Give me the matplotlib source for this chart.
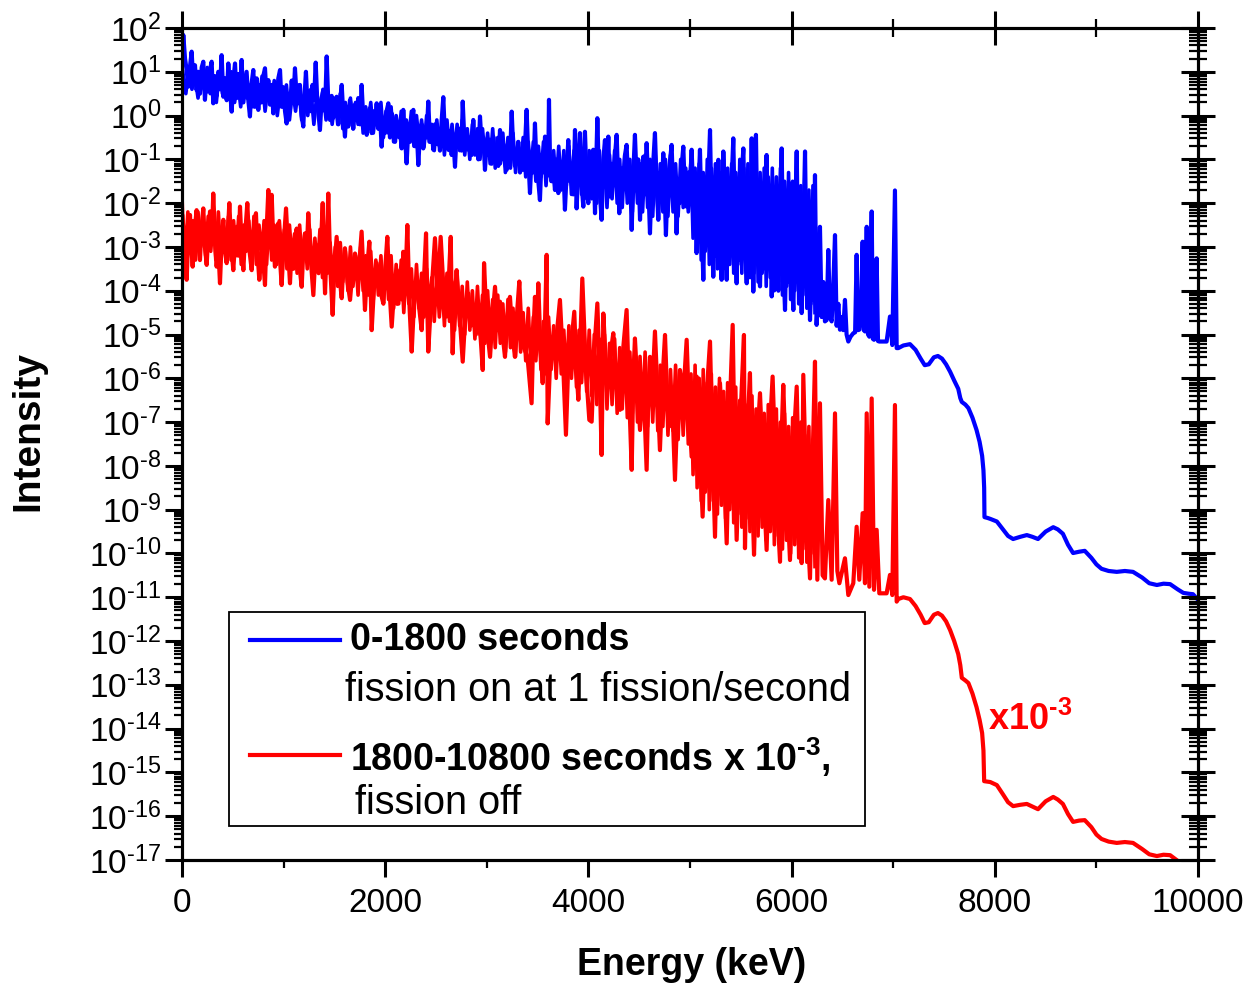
import numpy as np
import matplotlib
matplotlib.use("Agg")
import matplotlib.pyplot as plt
from matplotlib.ticker import LogLocator, MultipleLocator, NullFormatter, FuncFormatter
from matplotlib.patches import Rectangle
from matplotlib.lines import Line2D

plt.rcParams['font.family'] = ['Liberation Sans', 'DejaVu Sans']
plt.rcParams['mathtext.fontset'] = 'custom'
plt.rcParams['mathtext.rm'] = 'Liberation Sans'
plt.rcParams['mathtext.bf'] = 'Liberation Sans:bold'
plt.rcParams['mathtext.default'] = 'regular'
plt.rcParams['axes.unicode_minus'] = False

HY = '\u2010'  # short hyphen for exponents, as in the original

# (energy keV, log10 intensity)
# 0-1800 s, fission on
blue_low = [
    (0, 1.2), (13, 1.84), (30, 1.3), (46, 1.04), (62, 0.66), (78, 1.1), (95, 1.46), (112, 0.75),
    (128, 1.15), (144, 0.58), (160, 1.0), (177, 0.5), (194, 1.1), (210, 1.23), (226, 0.36),
    (243, 0.95), (259, 0.55), (276, 1.05), (292, 1.23), (308, 0.28), (325, 0.9), (341, 0.45),
    (357, 1.0), (374, 0.6), (390, 1.38), (407, 0.43), (423, 0.85), (440, 0.35), (456, 1.19),
    (472, 0.6), (489, 0.09), (505, 0.8), (522, 1.19), (538, 0.4), (554, 0.95), (571, 0.5),
    (587, 1.27), (604, 0.3), (620, 0.66), (636, 1.0), (653, 0.35), (669, -0.02), (686, 0.75),
    (702, 1.04), (718, 0.2), (735, 0.85), (751, 0.13), (768, 0.7), (784, 0.3), (800, 0.9),
    (817, 1.08), (833, 0.4), (850, 0.81), (866, 0.25), (882, 0.7), (899, 0.05), (915, 0.6),
    (932, 0.3), (948, 0.85), (965, 1.04), (981, 0.2), (997, 0.65), (1014, 0.1), (1030, -0.18),
    (1047, 0.5), (1063, 0.15), (1080, 0.8), (1096, 0.3), (1112, 1.08), (1129, 0.4), (1145, 0.28),
    (1161, 0.7), (1178, 0.0), (1194, -0.25), (1210, 0.6), (1220, 1.0), (1236, 0.2), (1252, 0.55),
    (1268, 0.1), (1284, 0.7), (1300, 0.35), (1316, 1.21), (1332, 0.3), (1345, 0.0), (1358, -0.33),
    (1375, 0.4), (1391, 0.58), (1408, 0.1), (1424, 1.35), (1440, 0.3), (1457, -0.1), (1473, 0.45),
    (1490, -0.05), (1506, 0.2), (1522, 0.43), (1539, -0.2), (1555, 0.3), (1572, 0.7), (1588, 0.0),
    (1604, -0.48), (1620, 0.2), (1637, -0.25), (1653, 0.35), (1670, 0.13), (1686, -0.3),
    (1702, 0.25), (1719, -0.1), (1735, 0.4), (1752, -0.2), (1768, 0.7), (1785, -0.1), (1801, 0.15),
    (1818, -0.44), (1834, 0.05), (1850, 0.17), (1867, -0.4), (1883, 0.1), (1900, -0.2), (1916, 0.28),
    (1932, -0.3), (1949, 0.0), (1965, -0.71), (1982, -0.1), (1998, -0.4), (2014, 0.1), (2031, 0.28),
    (2047, -0.5), (2064, 0.05), (2080, -0.1), (2097, -0.6), (2113, -0.2), (2129, -0.45),
    (2146, -0.33), (2162, -0.75), (2178, 0.13), (2195, -0.5), (2211, -1.09), (2228, -0.3),
    (2244, -0.6), (2260, -0.1), (2277, 0.13), (2293, -0.7), (2310, -0.3), (2326, -1.13),
    (2342, -0.4), (2359, -0.2), (2375, -0.75), (2392, -0.3), (2408, -0.5), (2424, 0.32),
    (2441, -0.6), (2457, -0.35), (2474, -0.78), (2490, -0.2), (2506, -0.65), (2523, -0.3),
    (2539, -0.8), (2556, -0.1), (2572, 0.42), (2588, -0.5), (2605, -0.2), (2621, -0.78),
    (2638, -0.35), (2654, -0.9), (2670, -0.5), (2687, -1.17), (2703, -0.4), (2720, -0.7),
    (2736, -0.3), (2752, -0.8), (2763, 0.32), (2780, -0.6), (2797, -0.35), (2818, -0.78),
    (2835, -0.5), (2851, -0.9), (2867, -0.1), (2884, -0.8), (2900, -0.55), (2917, -1.0),
    (2933, -0.02), (2950, -0.7), (2966, -0.5), (2982, -1.24), (2999, -0.6), (3015, -0.9),
    (3032, -0.55), (3048, -1.1), (3064, -0.48), (3081, -0.95), (3097, -0.7), (3113, -1.15),
    (3130, -0.33), (3146, -1.0), (3163, -0.65), (3179, -1.1), (3195, -1.24), (3212, -0.7),
    (3228, -1.0), (3245, 0.09), (3261, -0.8), (3277, -1.15), (3294, -1.01), (3310, -0.6),
    (3327, -1.3), (3343, -0.85), (3360, -1.24), (3376, -0.7), (3392, 0.13), (3409, -1.0),
    (3425, -1.77), (3441, -0.9), (3458, -1.3), (3474, -0.18), (3490, -1.2), (3507, -1.5),
    (3523, -1.93), (3540, -0.9), (3556, -1.3), (3573, -0.48), (3589, -1.4), (3605, -1.1),
    (3612, 0.36), (3622, -1.0), (3638, -1.5), (3655, -1.24), (3671, -1.7), (3687, -1.0),
    (3704, -1.77), (3720, -1.2), (3737, -1.5), (3753, -1.1), (3769, -2.15), (3786, -1.3),
    (3802, -0.56), (3819, -1.5), (3835, -1.2), (3851, -1.8), (3868, -0.33), (3884, -2.12),
    (3901, -1.2), (3917, -0.4), (3934, -1.6), (3950, -2.08), (3966, -0.37), (3983, -1.5),
    (3999, -2.0),
]
blue_high = [
    (4015, -1.0), (4032, -1.6), (4048, -0.78), (4065, -2.23), (4088, -0.06), (4105, -1.5),
    (4130, -2.38), (4147, -1.0), (4163, -0.56), (4180, -1.6), (4196, -0.48), (4212, -1.85),
    (4230, -1.1), (4245, -1.6), (4262, -0.9), (4278, -0.44), (4304, -2.23), (4320, -1.2),
    (4340, -1.6), (4360, -0.9), (4376, -0.67), (4395, -1.7), (4410, -1.2), (4426, -2.61),
    (4442, -1.3), (4458, -0.44), (4475, -1.5), (4490, -1.0), (4508, -2.38), (4524, -1.4),
    (4540, -0.94), (4557, -1.8), (4573, -0.63), (4590, -1.6), (4606, -2.69), (4622, -1.5),
    (4640, -1.0), (4655, -0.4), (4672, -1.6), (4688, -2.38), (4705, -1.3), (4720, -1.8),
    (4737, -0.86), (4750, -1.7), (4763, -2.73), (4780, -1.5), (4800, -1.1), (4819, -0.67),
    (4836, -1.9), (4852, -1.4), (4868, -2.69), (4885, -1.5), (4900, -2.0), (4917, -1.2),
    (4934, -0.71), (4950, -1.8), (4967, -2.08), (4984, -1.3), (5000, -1.6), (5016, -0.78),
    (5033, -1.85), (5049, -1.5), (5065, -3.14), (5082, -1.8), (5098, -0.78), (5115, -2.5),
    (5131, -3.75), (5148, -1.6), (5165, -2.8), (5180, -1.5), (5197, -0.33), (5213, -2.4),
    (5229, -3.68), (5246, -2.0), (5262, -3.2), (5279, -1.01), (5295, -2.6), (5311, -3.75),
    (5328, -0.82), (5344, -2.5), (5361, -3.75), (5377, -1.8), (5394, -3.0), (5410, -1.5),
    (5426, -0.52), (5443, -2.6), (5459, -3.83), (5476, -1.9), (5492, -3.3), (5508, -1.4),
    (5525, -0.75), (5541, -2.8), (5558, -3.83), (5574, -2.0), (5590, -3.4), (5607, -0.52),
    (5623, -4.02), (5636, -1.5), (5649, -0.44), (5665, -3.0), (5689, -3.9), (5705, -2.2),
    (5722, -3.5), (5738, -1.6), (5754, -0.9), (5771, -3.0), (5787, -2.0), (5804, -4.13),
    (5820, -2.6), (5837, -3.6), (5853, -2.69), (5870, -4.0), (5886, -2.2), (5902, -0.75),
    (5918, -3.3), (5935, -4.44), (5951, -2.5), (5968, -3.8), (5984, -1.55), (6000, -3.5),
    (6017, -4.44), (6033, -2.5), (6050, -0.82), (6066, -3.5), (6082, -2.8), (6099, -4.51),
    (6115, -2.7), (6132, -0.82), (6148, -3.6), (6164, -3.0), (6181, -4.67), (6197, -3.5),
    (6214, -4.2), (6230, -1.36), (6246, -4.78), (6262, -4.0), (6279, -2.54), (6295, -4.6),
    (6312, -3.8), (6328, -4.7), (6345, -4.67), (6361, -3.07), (6378, -4.6), (6394, -4.7),
    (6410, -3.9), (6427, -2.73), (6443, -4.8), (6460, -4.3), (6476, -4.89), (6492, -4.6),
    (6508, -4.9), (6525, -4.21), (6541, -5.0), (6558, -5.16), (6580, -5.05), (6607, -4.97),
    (6625, -4.95), (6640, -3.18), (6653, -4.9), (6666, -4.89), (6682, -4.5), (6699, -2.88),
    (6710, -4.9), (6722, -4.93), (6739, -2.54), (6752, -5.0), (6765, -5.05), (6788, -2.19),
    (6800, -5.1), (6811, -5.12), (6837, -3.26), (6850, -5.15), (6863, -5.16), (6900, -5.16),
    (6935, -5.16), (6968, -4.59), (6991, -5.24), (7017, -1.71), (7034, -5.31),
]
blue_tail = [
    (7050, -5.31), (7100, -5.25), (7165, -5.22), (7220, -5.35), (7270, -5.55), (7310, -5.70),
    (7350, -5.68), (7400, -5.52), (7440, -5.49), (7480, -5.55), (7520, -5.68), (7560, -5.85),
    (7600, -6.05), (7640, -6.24), (7660, -6.45), (7675, -6.54), (7710, -6.60), (7740, -6.68),
    (7780, -6.90), (7820, -7.18), (7850, -7.45), (7875, -7.77), (7888, -8.10), (7895, -8.50),
    (7898, -9.17), (7930, -9.19), (7955, -9.21), (8020, -9.27), (8080, -9.45), (8130, -9.60),
    (8180, -9.67), (8250, -9.62), (8315, -9.58), (8370, -9.62), (8425, -9.67), (8500, -9.50),
    (8575, -9.40), (8620, -9.45), (8670, -9.55), (8720, -9.80), (8770, -9.99), (8830, -9.96),
    (8885, -9.94), (8950, -10.10), (9000, -10.25), (9050, -10.35), (9120, -10.40), (9200, -10.42),
    (9280, -10.40), (9360, -10.42), (9450, -10.55), (9520, -10.68), (9595, -10.72), (9660, -10.69),
    (9725, -10.70), (9800, -10.82), (9855, -10.90), (9910, -10.92), (9950, -10.93), (10000, -11.06),
]
# the many weaker lines that fill the band under the tall peaks
blue_core = [
    (8, 1.0), (38, 0.5), (68, 1.1), (98, 0.6), (128, 0.9), (158, 0.4), (188, 1.0), (218, 0.6),
    (248, 1.1), (278, 0.5), (308, 0.9), (338, 0.3), (368, 1.0), (398, 0.5), (428, 0.8), (458, 0.4),
    (488, 1.0), (518, 0.3), (548, 0.8), (578, 0.2), (608, 0.9), (638, 0.4), (668, 0.7), (698, 0.2),
    (728, 0.8), (758, 0.3), (788, 0.9), (818, 0.1), (848, 0.7), (878, 0.3), (908, 0.8), (938, 0.0),
    (968, 0.6), (998, 0.2), (1028, 0.7), (1058, -0.1), (1088, 0.6), (1118, 0.1), (1148, 0.7),
    (1178, -0.1), (1208, 0.5), (1238, 0.0), (1268, 0.6), (1298, -0.2), (1328, 0.5), (1358, 0.1),
    (1388, 0.6), (1418, -0.1), (1448, 0.4), (1478, -0.2), (1508, 0.4), (1533, -0.2), (1558, 0.5),
    (1583, -0.3), (1608, 0.3), (1633, -0.1), (1658, 0.4), (1683, -0.3), (1708, 0.3), (1733, -0.2),
    (1758, 0.4), (1783, -0.4), (1808, 0.2), (1833, -0.2), (1858, 0.3), (1883, -0.4), (1908, 0.1),
    (1933, -0.3), (1958, 0.3), (1983, -0.5), (2008, 0.1), (2033, -0.4), (2058, 0.2), (2083, -0.6),
    (2108, 0.0), (2133, -0.5), (2158, 0.1), (2183, -0.6), (2208, -0.1), (2233, -0.5), (2258, 0.1),
    (2283, -0.7), (2308, 0.0), (2333, -0.6), (2358, -0.1), (2383, -0.7), (2408, 0.0), (2433, -0.6),
    (2458, -0.2), (2483, -0.8), (2508, -0.1), (2533, -0.7), (2558, -0.2), (2583, -0.9),
    (2608, -0.1), (2633, -0.8), (2658, -0.2), (2683, -0.9), (2708, -0.2), (2733, -0.8),
    (2758, -0.1), (2783, -0.9), (2808, -0.3), (2833, -1.0), (2858, -0.2), (2883, -0.9),
    (2908, -0.3), (2933, -1.0), (2958, -0.3), (2983, -1.0), (3008, -0.4), (3033, -1.1),
    (3058, -0.3), (3083, -1.2), (3108, -0.5), (3133, -1.1), (3158, -0.4), (3183, -1.3),
    (3208, -0.5), (3233, -1.2), (3258, -0.4), (3283, -1.3), (3308, -0.6), (3333, -1.2),
    (3358, -0.5), (3383, -1.4), (3408, -0.6), (3433, -1.3), (3458, -0.6), (3483, -1.5),
    (3508, -0.7), (3533, -1.4), (3558, -0.6), (3583, -1.6), (3608, -0.7), (3633, -1.5),
    (3658, -0.8), (3683, -1.6), (3708, -0.7), (3733, -1.7), (3758, -0.8), (3783, -1.6),
    (3808, -0.7), (3833, -1.8), (3858, -0.8), (3883, -1.7), (3908, -0.7), (3933, -1.8),
    (3958, -0.8), (3983, -1.9), (4008, -0.8), (4033, -1.9), (4058, -0.9), (4083, -2.0),
    (4108, -0.8), (4133, -1.8), (4158, -1.0), (4183, -2.1), (4208, -0.9), (4233, -1.9),
    (4258, -0.8), (4283, -2.0), (4308, -1.0), (4333, -2.1), (4358, -0.9), (4383, -2.0),
    (4408, -1.0), (4433, -2.2), (4458, -0.9), (4483, -2.0), (4508, -1.1), (4533, -2.2),
    (4558, -0.9), (4583, -2.1), (4608, -1.0), (4633, -2.3), (4658, -0.9), (4683, -2.1),
    (4708, -1.1), (4733, -2.2), (4758, -1.0), (4783, -2.3), (4808, -0.9), (4833, -2.2),
    (4858, -1.1), (4883, -2.3), (4908, -1.0), (4933, -2.1), (4958, -1.2), (4983, -2.2),
    (5010, -1.0), (5030, -2.8), (5050, -1.2), (5070, -3.0), (5090, -1.1), (5110, -3.3),
    (5130, -1.3), (5150, -3.1), (5170, -1.0), (5190, -3.4), (5210, -1.2), (5230, -3.2),
    (5250, -1.1), (5270, -3.5), (5290, -1.3), (5310, -3.3), (5330, -1.0), (5350, -3.5),
    (5370, -1.2), (5390, -3.4), (5410, -1.1), (5430, -3.6), (5450, -1.3), (5470, -3.4),
    (5490, -1.0), (5510, -3.6), (5530, -1.2), (5550, -3.5), (5570, -1.1), (5590, -3.7),
    (5610, -1.3), (5630, -3.6), (5650, -1.0), (5670, -3.8), (5690, -1.3), (5710, -3.6),
    (5730, -1.2), (5750, -3.9), (5770, -1.4), (5790, -3.7), (5810, -1.2), (5830, -4.0),
    (5850, -1.4), (5870, -3.8), (5890, -1.2), (5910, -4.1), (5930, -1.5), (5950, -3.9),
    (5970, -1.3), (5990, -4.2), (6010, -1.5), (6030, -4.0), (6050, -1.3), (6070, -4.3),
    (6090, -1.6), (6110, -4.1), (6130, -1.4), (6150, -4.4), (6170, -1.7), (6190, -4.3),
    (6210, -1.6), (6230, -4.5),
]

# 1800-10800 s, fission off, already scaled by 1e-3
red_low = [
    (0, -2.0), (13, -2.99), (30, -3.3), (46, -3.75), (62, -2.8), (79, -2.27), (92, -3.0),
    (105, -3.45), (125, -2.6), (144, -2.16), (160, -2.9), (177, -3.3), (194, -2.5), (210, -2.12),
    (226, -3.0), (243, -3.41), (259, -2.7), (276, -2.19), (292, -2.9), (308, -1.78), (325, -2.8),
    (341, -3.45), (357, -3.0), (374, -3.83), (390, -2.9), (407, -2.38), (424, -3.1), (440, -3.37),
    (453, -2.6), (466, -2.0), (486, -3.0), (505, -3.53), (522, -2.9), (538, -2.54), (555, -3.2),
    (571, -2.08), (588, -3.0), (604, -3.53), (622, -2.7), (643, -2.0), (665, -3.1), (686, -3.53),
    (707, -2.8), (728, -2.23), (745, -3.2), (761, -3.75), (790, -3.0), (817, -3.87), (835, -2.5),
    (850, -1.7), (866, -2.6), (883, -1.81), (899, -2.9), (915, -3.45), (932, -2.9), (948, -2.46),
    (965, -3.3), (981, -3.87), (1002, -2.9), (1024, -2.12), (1043, -3.0), (1063, -3.83),
    (1080, -3.0), (1096, -3.5), (1112, -2.8), (1129, -2.58), (1150, -3.3), (1178, -3.91),
    (1194, -3.1), (1211, -2.69), (1227, -3.2), (1243, -2.23), (1268, -3.3), (1293, -4.1),
    (1310, -3.3), (1326, -2.96), (1345, -3.6), (1365, -3.1), (1385, -2.0), (1396, -3.3),
    (1408, -4.06), (1424, -3.0), (1440, -1.78), (1460, -3.5), (1483, -4.55), (1500, -3.5),
    (1522, -2.77), (1547, -3.6), (1572, -4.17), (1588, -3.4), (1604, -3.03), (1630, -3.8),
    (1654, -4.21), (1680, -3.5), (1703, -3.15), (1735, -3.7), (1768, -2.65), (1785, -3.6),
    (1801, -4.44), (1822, -3.5), (1844, -2.88), (1855, -3.8), (1867, -4.9), (1890, -3.9),
    (1916, -3.37), (1950, -4.0), (1982, -4.29), (2000, -3.5), (2021, -2.77), (2043, -4.0),
    (2064, -4.82), (2090, -3.9), (2118, -4.3), (2146, -3.53), (2162, -4.2), (2178, -3.11),
    (2198, -3.9), (2218, -2.5), (2240, -4.4), (2261, -5.39), (2285, -4.2), (2310, -3.72),
    (2335, -4.4), (2359, -4.9), (2380, -3.8), (2402, -2.69), (2413, -4.2), (2424, -5.39),
    (2457, -4.0), (2490, -2.8), (2518, -4.1), (2546, -2.77), (2575, -4.0), (2605, -4.59),
    (2625, -3.8), (2645, -2.77), (2655, -4.3), (2664, -5.43), (2683, -4.2), (2703, -3.53),
    (2733, -4.6), (2763, -5.62), (2790, -4.5), (2818, -4.06), (2843, -4.8), (2867, -4.59),
    (2892, -5.0), (2917, -4.52), (2940, -5.1), (2960, -5.81), (2973, -3.37), (3000, -4.8),
    (3032, -5.51), (3056, -4.6), (3081, -3.91), (3105, -4.9), (3130, -4.25), (3155, -5.0),
    (3179, -5.51), (3203, -4.6), (3228, -4.14), (3252, -5.0), (3277, -5.51), (3298, -4.5),
    (3320, -3.79), (3340, -4.8), (3360, -5.28), (3400, -5.5), (3441, -6.57), (3458, -5.0),
    (3474, -4.14), (3490, -5.2), (3507, -3.83), (3528, -5.3), (3550, -6.11), (3570, -5.0),
    (3589, -3.18), (3599, -7.03), (3627, -5.4), (3655, -5.51), (3688, -5.0), (3720, -4.21),
    (3750, -5.6), (3779, -7.29), (3800, -5.8), (3819, -5.51), (3840, -5.0), (3861, -4.48),
    (3880, -5.7), (3901, -6.49), (3920, -5.2), (3940, -3.72), (3975, -5.8), (4009, -6.95),
]
red_high = [
    (4032, -6.99), (4060, -5.3), (4088, -4.29), (4110, -5.8), (4130, -7.75), (4147, -4.52),
    (4170, -5.6), (4196, -6.11), (4220, -5.4), (4245, -4.97), (4278, -6.2), (4311, -6.72),
    (4343, -5.3), (4376, -4.44), (4400, -6.3), (4426, -8.09), (4442, -6.0), (4458, -5.09),
    (4483, -6.2), (4508, -7.18), (4540, -6.0), (4573, -8.09), (4590, -6.3), (4606, -5.51),
    (4630, -6.2), (4655, -4.93), (4680, -6.3), (4704, -7.64), (4730, -6.0), (4754, -5.01),
    (4775, -6.4), (4796, -7.1), (4825, -6.5), (4852, -8.32), (4877, -6.6), (4901, -5.81),
    (4934, -6.4), (4967, -5.12), (4990, -6.7), (5016, -7.79), (5040, -6.5), (5065, -5.96),
    (5095, -7.4), (5124, -9.16), (5160, -6.5), (5197, -5.16), (5220, -7.5), (5246, -9.62),
    (5270, -7.0), (5295, -6.11), (5328, -7.6), (5361, -9.77), (5390, -6.8), (5420, -4.78),
    (5440, -7.8), (5459, -9.69), (5495, -7.0), (5531, -5.01), (5541, -9.88), (5565, -7.2),
    (5590, -5.88), (5610, -8.5), (5630, -10.03), (5660, -7.5), (5689, -6.34), (5720, -8.2),
    (5754, -9.92), (5785, -7.2), (5813, -5.96), (5850, -8.6), (5886, -10.19), (5900, -7.4),
    (5918, -6.15), (5950, -8.4), (5984, -10.15), (6017, -7.6), (6050, -6.19), (6075, -8.8),
    (6099, -10.22), (6115, -5.92), (6148, -9.0), (6181, -10.57), (6205, -8.0), (6230, -5.62),
    (6253, -10.6), (6279, -6.57), (6305, -10.5), (6328, -10.57), (6361, -8.78), (6394, -10.6),
    (6427, -6.8), (6450, -10.4), (6470, -10.68), (6525, -10.11), (6558, -10.95), (6607, -10.68),
    (6640, -9.39), (6666, -10.6), (6699, -9.08), (6722, -10.68), (6739, -6.8), (6765, -10.76),
    (6788, -6.46), (6811, -10.83), (6837, -9.46), (6863, -10.91), (6935, -10.91), (6968, -10.49),
    (6991, -10.95), (7017, -6.61), (7034, -11.1),
]
red_tail = [
    (7050, -11.04), (7100, -11.00), (7165, -11.04), (7220, -11.20), (7270, -11.40),
    (7310, -11.59), (7350, -11.57), (7400, -11.40), (7440, -11.36), (7480, -11.42),
    (7520, -11.55), (7560, -11.75), (7600, -12.00), (7640, -12.30), (7660, -12.55),
    (7675, -12.84), (7710, -12.90), (7740, -12.96), (7780, -13.20), (7820, -13.51),
    (7850, -13.80), (7875, -14.10), (7888, -14.50), (7895, -15.20), (7955, -15.22),
    (8020, -15.29), (8080, -15.50), (8130, -15.68), (8180, -15.77), (8250, -15.74),
    (8315, -15.72), (8370, -15.78), (8425, -15.84), (8500, -15.66), (8575, -15.56),
    (8620, -15.62), (8670, -15.72), (8720, -15.95), (8770, -16.13), (8830, -16.10),
    (8885, -16.09), (8950, -16.25), (9000, -16.42), (9050, -16.52), (9120, -16.58),
    (9200, -16.61), (9280, -16.59), (9360, -16.61), (9450, -16.75), (9520, -16.87),
    (9595, -16.91), (9660, -16.88), (9725, -16.89), (9800, -17.02),
]
red_core = [
    (8, -2.3), (33, -3.2), (58, -2.2), (83, -3.1), (108, -2.4), (133, -3.3), (158, -2.2),
    (183, -3.0), (208, -2.5), (233, -3.2), (258, -2.3), (283, -3.1), (308, -2.4), (333, -3.3),
    (358, -2.2), (383, -3.2), (408, -2.5), (433, -3.0), (458, -2.3), (483, -3.3), (508, -2.4),
    (533, -3.2), (558, -2.3), (583, -3.4), (608, -2.5), (633, -3.1), (658, -2.4), (683, -3.3),
    (708, -2.3), (733, -3.4), (758, -2.5), (783, -3.2), (808, -2.4), (833, -3.4), (858, -2.3),
    (883, -3.3), (908, -2.5), (933, -3.4), (958, -2.4), (983, -3.2), (1008, -2.6), (1033, -3.5),
    (1058, -2.5), (1083, -3.3), (1108, -2.7), (1133, -3.6), (1158, -2.5), (1183, -3.4),
    (1208, -2.7), (1233, -3.5), (1258, -2.6), (1283, -3.7), (1308, -2.8), (1333, -3.5),
    (1358, -2.6), (1383, -3.7), (1408, -2.8), (1433, -3.6), (1458, -2.9), (1483, -3.8),
    (1508, -3.0), (1533, -3.9), (1558, -2.9), (1583, -3.8), (1608, -3.1), (1633, -4.0),
    (1658, -3.0), (1683, -3.9), (1708, -3.2), (1733, -4.1), (1758, -3.0), (1783, -4.0),
    (1808, -3.2), (1833, -4.1), (1858, -3.1), (1883, -4.2), (1908, -3.3), (1933, -4.1),
    (1958, -3.2), (1983, -4.3), (2008, -3.3), (2033, -4.2), (2058, -3.2), (2083, -4.4),
    (2108, -3.4), (2133, -4.3), (2158, -3.3), (2183, -4.5), (2208, -3.4), (2233, -4.3),
    (2258, -3.5), (2283, -4.6), (2308, -3.4), (2333, -4.4), (2358, -3.6), (2383, -4.6),
    (2408, -3.5), (2433, -4.5), (2458, -3.7), (2483, -4.7), (2508, -3.6), (2533, -4.6),
    (2558, -3.7), (2583, -4.8), (2608, -3.6), (2633, -4.7), (2658, -3.8), (2683, -4.9),
    (2708, -3.7), (2733, -4.8), (2758, -3.9), (2783, -5.0), (2808, -3.8), (2833, -4.9),
    (2858, -4.0), (2883, -5.1), (2908, -3.9), (2933, -5.0), (2958, -4.1), (2983, -5.2),
    (3008, -4.0), (3033, -5.1), (3058, -4.2), (3083, -5.3), (3108, -4.1), (3133, -5.2),
    (3158, -4.3), (3183, -5.4), (3208, -4.2), (3233, -5.3), (3258, -4.4), (3283, -5.5),
    (3308, -4.3), (3333, -5.4), (3358, -4.5), (3383, -5.6), (3408, -4.4), (3433, -5.7),
    (3458, -4.6), (3483, -5.6), (3508, -4.5), (3533, -5.8), (3558, -4.7), (3583, -5.9),
    (3608, -4.6), (3633, -5.8), (3658, -4.8), (3683, -6.0), (3708, -4.7), (3733, -5.9),
    (3758, -4.9), (3783, -6.1), (3808, -4.8), (3833, -6.0), (3858, -5.0), (3883, -6.2),
    (3908, -4.9), (3933, -6.1), (3958, -5.0), (3983, -6.3), (4008, -4.9), (4033, -6.4),
    (4058, -5.0), (4083, -6.6), (4108, -5.1), (4133, -6.5), (4158, -5.0), (4183, -6.7),
    (4208, -5.2), (4233, -6.6), (4258, -5.1), (4283, -6.8), (4308, -5.3), (4333, -6.7),
    (4358, -5.2), (4383, -6.9), (4408, -5.4), (4433, -6.8), (4458, -5.3), (4483, -7.0),
    (4508, -5.5), (4533, -6.9), (4558, -5.4), (4583, -7.1), (4608, -5.6), (4633, -7.0),
    (4658, -5.5), (4683, -7.2), (4708, -5.7), (4733, -7.1), (4758, -5.6), (4783, -7.3),
    (4808, -5.8), (4833, -7.2), (4858, -5.7), (4883, -7.4), (4908, -5.9), (4933, -7.3),
    (4958, -5.8), (4983, -7.5), (5010, -5.9), (5030, -8.2), (5050, -5.7), (5070, -8.5),
    (5090, -6.0), (5110, -8.8), (5130, -5.8), (5150, -8.6), (5170, -6.1), (5190, -9.0),
    (5210, -5.9), (5230, -8.8), (5250, -6.2), (5270, -9.1), (5290, -6.0), (5310, -8.9),
    (5330, -6.3), (5350, -9.2), (5370, -6.1), (5390, -9.0), (5410, -6.4), (5430, -9.3),
    (5450, -6.2), (5470, -9.1), (5490, -6.5), (5510, -9.4), (5530, -6.3), (5550, -9.2),
    (5570, -6.6), (5590, -9.5), (5610, -6.4), (5630, -9.3), (5650, -6.7), (5670, -9.6),
    (5690, -6.5), (5710, -9.4), (5730, -6.8), (5750, -9.7), (5770, -6.6), (5790, -9.5),
    (5810, -6.9), (5830, -9.8), (5850, -6.7), (5870, -9.6), (5890, -7.0), (5910, -9.9),
    (5930, -6.8), (5950, -9.7), (5970, -7.1), (5990, -10.0), (6010, -6.9), (6030, -9.8),
    (6050, -7.2), (6070, -10.1), (6090, -7.0), (6110, -9.9), (6130, -7.3), (6150, -10.2),
    (6170, -7.1), (6190, -10.0), (6210, -7.4), (6230, -10.3),
]

blue = np.array(blue_low + blue_high + blue_tail)
red = np.array(red_low + red_high + red_tail)
blue_c = np.array(blue_core)
red_c = np.array(red_core)


def decade_label(v, pos):
    n = int(round(np.log10(v)))
    return '$10^{%s}$' % str(n).replace('-', HY)


fig = plt.figure(figsize=(12.49, 9.86), dpi=100)
ax = fig.add_axes([0.1457, 0.1278, 0.8135, 0.8438])

ax.plot(blue_c[:, 0], 10.0 ** blue_c[:, 1], color='#0000ff', lw=2.6)
ax.plot(red_c[:, 0], 10.0 ** red_c[:, 1], color='#ff0000', lw=2.6)
ax.plot(blue[:, 0], 10.0 ** blue[:, 1], color='#0000ff', lw=3.0, solid_joinstyle='round')
ax.plot(red[:, 0], 10.0 ** red[:, 1], color='#ff0000', lw=3.0, solid_joinstyle='round')

ax.set_yscale('log')
ax.set_xlim(0, 10000)
ax.set_ylim(1e-17, 1e2)

ax.xaxis.set_major_locator(MultipleLocator(2000))
ax.xaxis.set_minor_locator(MultipleLocator(1000))
ax.yaxis.set_major_locator(LogLocator(base=10, numticks=40))
ax.yaxis.set_minor_locator(LogLocator(base=10, subs=np.arange(2, 10), numticks=40))
ax.yaxis.set_minor_formatter(NullFormatter())
ax.yaxis.set_major_formatter(FuncFormatter(decade_label))
ax.tick_params(which='major', direction='out', length=12, width=2.2, labelsize=24, pad=3)
ax.tick_params(which='minor', direction='out', length=6, width=1.6)
ax.tick_params(axis='x', which='major', pad=8)
for s in ax.spines.values():
    s.set_linewidth(2.2)

# top and right axes with ticks crossing the frame
axt = ax.twiny()
axt.set_xlim(0, 10000)
axt.xaxis.set_major_locator(MultipleLocator(2000))
axt.xaxis.set_minor_locator(MultipleLocator(1000))
axt.tick_params(which='major', direction='inout', length=25, width=2.2, labeltop=False)
axt.tick_params(which='minor', direction='inout', length=13, width=1.6)
axr = ax.twinx()
axr.set_yscale('log')
axr.set_ylim(1e-17, 1e2)
axr.yaxis.set_major_locator(LogLocator(base=10, numticks=40))
axr.yaxis.set_minor_locator(LogLocator(base=10, subs=np.arange(2, 10), numticks=40))
axr.yaxis.set_minor_formatter(NullFormatter())
axr.tick_params(which='major', direction='inout', length=25, width=2.2, labelright=False)
axr.tick_params(which='minor', direction='inout', length=13, width=1.6)
for a in (axt, axr):
    for s in a.spines.values():
        s.set_linewidth(2.2)

fig.text(0.5536, 0.021, 'Energy (keV)', fontsize=27, fontweight='bold', ha='center', va='center')
fig.text(0.023, 0.563, 'Intensity', fontsize=28, fontweight='bold', ha='center', va='center',
         rotation=90)

ax.text(0.793, 0.168, r'x10$^{\mathbf{%s3}}$' % HY, color='#ff0000', fontsize=26,
        fontweight='bold', transform=ax.transAxes, ha='left', va='center')

# legend drawn by hand: two-line entries, handle next to the first line
tr = ax.transAxes
axr.add_patch(Rectangle((0.0463, 0.0409), 0.6259, 0.2571, transform=tr, facecolor='white',
                        edgecolor='black', lw=1.3, zorder=5))
axr.add_line(Line2D([0.0669, 0.1555], [0.2644, 0.2644], transform=tr, color='#0000ff', lw=3, zorder=6))
axr.add_line(Line2D([0.0669, 0.1555], [0.1262, 0.1262], transform=tr, color='#ff0000', lw=3, zorder=6))
axr.text(0.1654, 0.2644, '0-1800 seconds', transform=tr, fontsize=27, fontweight='bold',
         va='center', zorder=7)
axr.text(0.1604, 0.2043, 'fission on at 1 fission/second', transform=tr, fontsize=28.5,
         va='center', zorder=7)
axr.text(0.1654, 0.1238, r'1800-10800 seconds x 10$^{\mathbf{%s3}}$,' % HY, transform=tr,
         fontsize=27, fontweight='bold', va='center', zorder=7)
axr.text(0.1703, 0.0685, 'fission off', transform=tr, fontsize=28.5, va='center', zorder=7)

fig.savefig('out.png', dpi=100)
